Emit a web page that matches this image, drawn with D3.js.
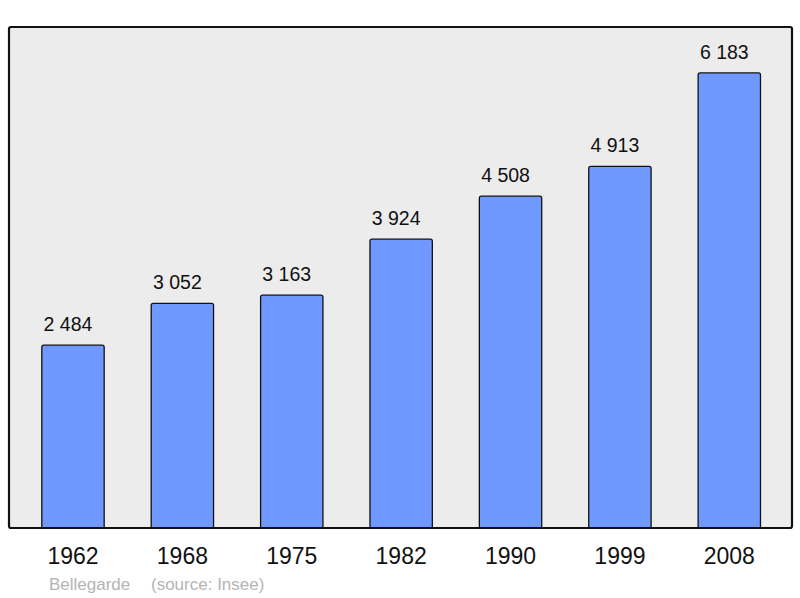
<!DOCTYPE html>
<meta charset="utf-8">
<style>
body { margin: 0; background: #fff; }
text { font-family: "Liberation Sans", Arial, sans-serif; }
</style>
<body>
  <div class="chart"></div>
</body>
<script src="https://cdn.jsdelivr.net/npm/d3@7"></script>
<script>

var years = ["1962", "1968", "1975", "1982", "1990", "1999", "2008"];
var population = [2484, 3052, 3163, 3924, 4508, 4913, 6183];
var caption = ["Bellegarde", "(source: Insee)"];

var width = 800, height = 598;
var panel = {x0: 9, y0: 27, x1: 792, y1: 528};

var fmt = function(v) { return d3.format(",")(v).replace(/,/g, " "); };

var svg = d3.select(".chart")
        .append("svg")
        .attr("width", width)
        .attr("height", height);

var x = d3.scaleBand()
        .domain(years)
        .range([18.3, 784])
        .paddingInner(0.43)
        .paddingOuter(0.215);

var y = d3.scaleLinear()
        .domain([0, 6807])
        .range([panel.y1, panel.y0]);

svg.append("rect")
        .attr("x", panel.x0)
        .attr("y", panel.y0)
        .attr("width", panel.x1 - panel.x0)
        .attr("height", panel.y1 - panel.y0)
        .attr("rx", 2)
        .style("fill", "#ececec");

var data = years.map(function(d, i) { return {year: d, value: population[i]}; });

// bars with rounded top only
svg.selectAll(".bar")
        .data(data)
        .enter()
        .append("path")
        .attr("class", "bar")
        .attr("d", function(d) {
            var x0 = x(d.year), x1 = x0 + x.bandwidth(), t = y(d.value), b = y(0), r = 2;
            return "M" + x0 + "," + b + "V" + (t + r) + "Q" + x0 + "," + t + " " + (x0 + r) + "," + t +
                   "H" + (x1 - r) + "Q" + x1 + "," + t + " " + x1 + "," + (t + r) + "V" + b + "Z";
        })
        .style("fill", "#7099ff")
        .style("stroke", "#111")
        .style("stroke-width", 1.3);

// value labels sit a little left of the bar centre, as in the source
svg.selectAll(".val")
        .data(data)
        .enter()
        .append("text")
        .attr("class", "val")
        .attr("x", function(d) { return x(d.year) + x.bandwidth() / 2 - 5; })
        .attr("y", function(d) { return y(d.value) - 14; })
        .style("text-anchor", "middle")
        .style("font-size", "19.5px")
        .style("fill", "#111")
        .text(function(d) { return fmt(d.value); });

svg.append("rect")
        .attr("x", panel.x0)
        .attr("y", panel.y0)
        .attr("width", panel.x1 - panel.x0)
        .attr("height", panel.y1 - panel.y0)
        .attr("rx", 2)
        .style("fill", "none")
        .style("stroke", "#111")
        .style("stroke-width", 2.2);

var axis = svg.append("g")
        .attr("transform", "translate(0," + panel.y1 + ")")
        .call(d3.axisBottom(x).tickSize(0).tickPadding(20));
axis.select(".domain").remove();
axis.selectAll("text")
        .style("font-family", "'Liberation Sans', Arial, sans-serif")
        .style("font-size", "23px")
        .style("fill", "#111");

svg.append("text")
        .attr("x", 49)
        .attr("y", 590)
        .style("font-size", "17px")
        .style("fill", "#b4b4b4")
        .text(caption[0]);

svg.append("text")
        .attr("x", 151)
        .attr("y", 590)
        .style("font-size", "17px")
        .style("fill", "#b4b4b4")
        .text(caption[1]);

</script>
